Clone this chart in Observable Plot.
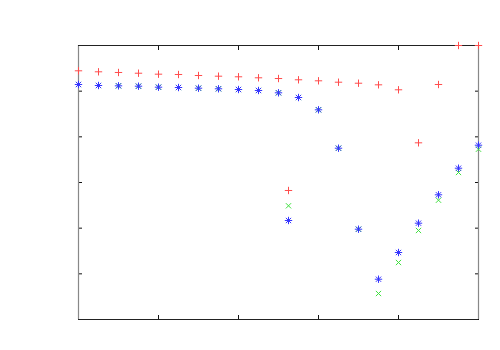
<!DOCTYPE html>
<html>
<head>
<meta charset="utf-8">
<script src="https://cdn.jsdelivr.net/npm/d3@7"></script>
<script src="https://cdn.jsdelivr.net/npm/@observablehq/plot@0.6"></script>
<style>
  html, body { margin: 0; padding: 0; background: #fff; }
  #chart { width: 500px; height: 350px; }
</style>
</head>
<body>
<div id="chart"></div>
<script>
// x positions of samples (note the extra sample at 10.5)
const xs = [0,1,2,3,4,5,6,7,8,9,10,10.5,11,12,13,14,15,16,17,18,19,20];
// red "+" series
const redVals = [5.446,5.424,5.409,5.393,5.372,5.365,5.343,5.328,5.315,5.293,5.277,2.825,5.249,5.227,5.196,5.174,5.139,5.030,3.869,5.146,6.0,6.0];
// green "x" series
const greenVals = [5.146,5.124,5.117,5.109,5.087,5.080,5.065,5.052,5.036,5.015,4.964,2.490,4.861,4.592,3.751,1.977,0.569,1.248,1.949,2.612,3.219,3.729];
// blue "*" series
const blueVals = [5.146,5.124,5.117,5.109,5.087,5.080,5.065,5.052,5.036,5.015,4.964,2.168,4.861,4.592,3.751,1.977,0.882,1.467,2.109,2.731,3.313,3.817];

const xDomain = [0, 20];
const yDomain = [0, 6];
const xTicks = [0, 4, 8, 12, 16, 20];
const yTicks = [0, 1, 2, 3, 4, 5, 6];

const toRows = vals => xs.map((x, i) => ({x, y: vals[i]}));
const red = toRows(redVals), green = toRows(greenVals), blue = toRows(blueVals);

const noText = () => "";

const chart = Plot.plot({
  width: 500,
  height: 350,
  marginLeft: 78,
  marginRight: 22,
  marginTop: 45,
  marginBottom: 31,
  style: {background: "#fff"},
  x: {domain: xDomain},
  y: {domain: yDomain},
  marks: [
    Plot.axisX(xTicks, {anchor: "bottom", tickSize: -4, tickFormat: noText, label: null, stroke: "#111"}),
    Plot.axisX(xTicks, {anchor: "top", tickSize: -4, tickFormat: noText, label: null, stroke: "#111"}),
    Plot.axisY(yTicks, {anchor: "left", tickSize: -4, tickFormat: noText, label: null, stroke: "#111"}),
    Plot.axisY(yTicks, {anchor: "right", tickSize: -4, tickFormat: noText, label: null, stroke: "#111"}),
    Plot.ruleX(xDomain, {stroke: "#888", strokeWidth: 1.2}),
    Plot.ruleY(yDomain, {stroke: "#222", strokeWidth: 1.2}),
    Plot.dot(red, {x: "x", y: "y", symbol: "plus", r: 2.5, stroke: "#ff4d4d", strokeWidth: 1}),
    Plot.dot(green, {x: "x", y: "y", symbol: "times", r: 2.5, stroke: "#40e040", strokeWidth: 1}),
    Plot.dot(blue, {x: "x", y: "y", symbol: "plus", r: 2.5, stroke: "#3535ff", strokeWidth: 1}),
    Plot.dot(blue, {x: "x", y: "y", symbol: "times", r: 2.5, stroke: "#3535ff", strokeWidth: 1})
  ]
});
document.getElementById("chart").appendChild(chart);
</script>
</body>
</html>
